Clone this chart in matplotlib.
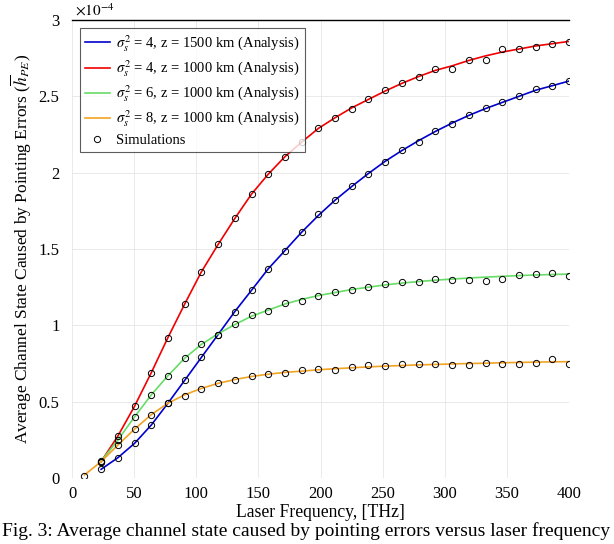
import matplotlib
matplotlib.use("Agg")
import matplotlib.pyplot as plt

plt.rcParams['font.family'] = ['Liberation Serif', 'DejaVu Serif']
plt.rcParams['mathtext.fontset'] = 'stix'

# Laser frequency [THz]
freq = [10, 23.4, 36.9, 50.3, 63.8, 77.2, 90.7, 104.1, 117.6, 131.0, 144.5, 157.9,
        171.4, 184.8, 198.3, 211.7, 225.2, 238.6, 252.1, 265.5, 279.0, 292.4,
        305.9, 319.3, 332.8, 346.2, 359.7, 373.1, 386.6, 400]

# Analysis curves (x 1e-4)
blue_ana = [0.057, 0.133, 0.227, 0.347, 0.49, 0.64, 0.79, 0.94, 1.09, 1.23, 1.37, 1.49,
            1.61, 1.72, 1.82, 1.91, 1.995, 2.075, 2.145, 2.21, 2.27, 2.325, 2.375, 2.42,
            2.46, 2.50, 2.54, 2.57, 2.60]
red_ana = [0.107, 0.275, 0.47, 0.69, 0.92, 1.14, 1.35, 1.53, 1.70, 1.86, 1.99, 2.105,
           2.20, 2.29, 2.36, 2.425, 2.48, 2.535, 2.585, 2.63, 2.67, 2.70, 2.735, 2.765,
           2.79, 2.81, 2.83, 2.845, 2.86]
green_ana = [0.11, 0.249, 0.40, 0.545, 0.67, 0.785, 0.875, 0.945, 1.005, 1.06, 1.10, 1.14,
             1.17, 1.195, 1.215, 1.235, 1.25, 1.265, 1.277, 1.287, 1.296, 1.303, 1.31,
             1.316, 1.321, 1.326, 1.33, 1.333, 1.336]
orange_ana = [0.02, 0.107, 0.216, 0.32, 0.415, 0.49, 0.545, 0.587, 0.62, 0.645, 0.665,
              0.68, 0.692, 0.70, 0.709, 0.716, 0.722, 0.728, 0.733, 0.737, 0.741, 0.744,
              0.747, 0.75, 0.752, 0.755, 0.757, 0.759, 0.761, 0.762]

# Simulation points (x 1e-4)
blue_sim = [0.057, 0.133, 0.227, 0.347, 0.49, 0.64, 0.79, 0.94, 1.09, 1.23, 1.37, 1.49,
            1.61, 1.73, 1.82, 1.91, 1.99, 2.07, 2.15, 2.20, 2.27, 2.32, 2.38, 2.425,
            2.46, 2.50, 2.55, 2.57, 2.60]
red_sim = [0.107, 0.275, 0.47, 0.69, 0.92, 1.14, 1.35, 1.53, 1.70, 1.86, 1.99, 2.105,
           2.20, 2.295, 2.355, 2.415, 2.485, 2.54, 2.59, 2.63, 2.68, 2.68, 2.735, 2.74,
           2.81, 2.81, 2.82, 2.845, 2.857]
green_sim = [0.11, 0.249, 0.40, 0.545, 0.67, 0.785, 0.88, 0.94, 1.01, 1.07, 1.096, 1.145,
             1.16, 1.195, 1.22, 1.23, 1.25, 1.27, 1.286, 1.284, 1.306, 1.30, 1.30, 1.29,
             1.306, 1.33, 1.335, 1.34, 1.32]
orange_sim = [0.013, 0.107, 0.216, 0.32, 0.415, 0.49, 0.54, 0.585, 0.62, 0.645, 0.67,
              0.68, 0.69, 0.708, 0.716, 0.71, 0.727, 0.74, 0.736, 0.75, 0.75, 0.75, 0.738,
              0.74, 0.756, 0.75, 0.747, 0.753, 0.778, 0.75]

labels = [r'$\sigma_s^2$ = 4, z = 1500 km (Analysis)',
          r'$\sigma_s^2$ = 4, z = 1000 km (Analysis)',
          r'$\sigma_s^2$ = 6, z = 1000 km (Analysis)',
          r'$\sigma_s^2$ = 8, z = 1000 km (Analysis)']
colors = ['#0000D0', '#F00000', '#66DD66', '#F2A322']

xticks = [0, 50, 100, 150, 200, 250, 300, 350, 400]
yticks = [0, 0.5, 1, 1.5, 2, 2.5, 3]
yticklabels = ['0', '0.5', '1', '1.5', '2', '2.5', '3']

fig = plt.figure(figsize=(6.14, 5.44), dpi=100)
ax = fig.add_axes([0.1173, 0.1213, 0.8094, 0.8419])

fx = freq[1:]
ax.plot(fx, blue_ana, color=colors[0], lw=1.2, label=labels[0])
ax.plot(fx, red_ana, color=colors[1], lw=1.2, label=labels[1])
ax.plot(fx, green_ana, color=colors[2], lw=1.2, label=labels[2])
ax.plot(freq, orange_ana, color=colors[3], lw=1.2, label=labels[3])

mk = dict(ls='none', marker='o', mfc='none', mec='black', ms=4.5, mew=0.7)
ax.plot(fx, blue_sim, **mk, label='Simulations')
ax.plot(fx, red_sim, **mk)
ax.plot(fx, green_sim, **mk)
ax.plot(freq, orange_sim, **mk)

ax.set_xlim(0, 400)
ax.set_ylim(0, 3)
ax.set_xticks(xticks)
ax.set_yticks(yticks)
ax.set_yticklabels(yticklabels)
ax.grid(True, color='#e6e6e6', lw=0.6)
ax.set_axisbelow(True)
for s in ['left', 'right', 'bottom']:
    ax.spines[s].set_visible(False)
ax.spines['top'].set_color('black')
ax.spines['top'].set_linewidth(1.0)
ax.tick_params(axis='both', length=0, labelsize=12)
ax.tick_params(axis='y', pad=9)
ax.tick_params(axis='x', pad=6)

ax.set_xlabel('Laser Frequency, [THz]', fontsize=12.7)
ax.xaxis.set_label_coords(0.5, -0.057)
ax.set_ylabel(r'Average Channel State Caused by Pointing Errors ($\overline{h}_{PE}$)',
              fontsize=12.5)
ax.yaxis.set_label_coords(-0.076, 0.5)

ax.text(0.006, 1.004, r'$\times 10^{-4}$', transform=ax.transAxes, fontsize=11,
        ha='left', va='bottom')

leg = ax.legend(loc='upper left', bbox_to_anchor=(0.016, 0.983), borderaxespad=0,
                fontsize=10.5, frameon=True, fancybox=False, edgecolor='#333333',
                handlelength=1.7, handletextpad=0.45, labelspacing=0.3,
                borderpad=0.35)
leg.get_frame().set_linewidth(0.8)

fig.text(0.004, 0.014, 'Fig. 3: Average channel state caused by pointing errors versus laser frequency',
         fontsize=14, ha='left', va='baseline')

fig.savefig('out.png', dpi=100)
